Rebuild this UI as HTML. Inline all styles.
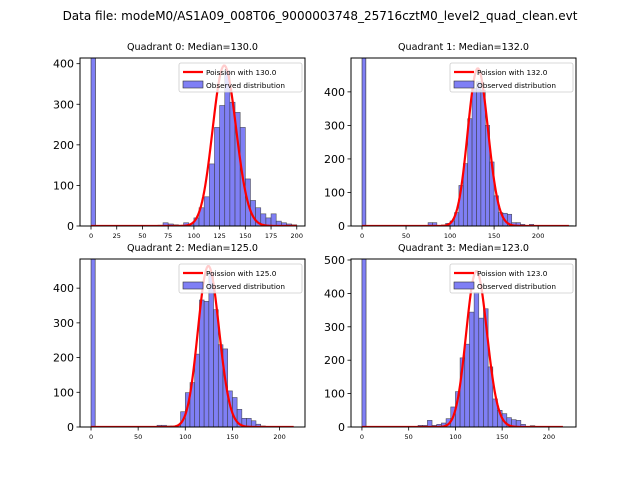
<!DOCTYPE html>
<html><head><meta charset="utf-8"><style>
body{margin:0;background:#fff;width:640px;height:480px;overflow:hidden}
svg{font-family:"DejaVu Sans","Liberation Sans",sans-serif}
</style></head><body>
<svg id="c" width="640" height="480" xmlns="http://www.w3.org/2000/svg">
<rect width="640" height="480" fill="#fff"/>
<text x="320" y="20" font-size="12" text-anchor="middle">Data file: modeM0/AS1A09_008T06_9000003748_25716cztM0_level2_quad_clean.evt</text>
</svg>
<script>
const titles=["Quadrant 0: Median=130.0","Quadrant 1: Median=132.0","Quadrant 2: Median=125.0","Quadrant 3: Median=123.0"];
const lambdas=[130,132,125,123];
const binWidth=5;
const zeroBin=[2000,2000,2000,2000];
const counts0=[0,2,8,5,3,2,8,5,20,45,72,153,243,297,383,305,280,243,116,63,45,30,20,30,12,8,5,3,0,0,0,0,0,0,0,0];
const counts1=[0,0,0,10,10,0,3,8,15,40,121,186,320,410,430,405,300,191,90,40,38,35,10,10,5,0,5,0,2,0,0,0,0,0,0,1];
const counts2=[0,0,5,5,3,3,5,44,99,128,210,366,362,446,338,237,225,104,85,51,25,25,18,8,3,0,0,0,0,0,0,0];
const counts3=[5,5,20,5,8,12,25,60,106,207,248,344,403,326,354,180,84,50,40,28,22,20,8,0,4,0,0,0,0,0,0,0];
const allCounts=[counts0,counts1,counts2,counts3];
const curveScale=[11300,13540,13000,12970];
const curveMax=[200,235,215,215];
const xTicks=[[0,25,50,75,100,125,150,175,200],[0,50,100,150,200],[0,50,100,150,200],[0,50,100,150,200]];
const yTicks=[[0,100,200,300,400],[0,100,200,300,400],[0,100,200,300,400],[0,100,200,300,400,500]];
const xLim=[[-10.7,208],[-12.5,243],[-11.7,227],[-11.7,229]];
const yMax=[414,501,484,503];

const svg=document.getElementById('c');
const NS="http://www.w3.org/2000/svg";
function mk(t,a,p){const e=document.createElementNS(NS,t);for(const k in a)e.setAttribute(k,a[k]);(p||svg).appendChild(e);return e;}
const boxes=[[80,58,225,168],[351,58,225,168],[80,259,225,168],[351,259,225,168]];
function logPois(k,l){let s=k*Math.log(l)-l;for(let i=2;i<=k;i++)s-=Math.log(i);return s;}
for(let q=0;q<4;q++){
  const [bx,by,bw,bh]=boxes[q];
  const g=mk('g',{});
  
  
  const xs=v=>bx+(v-xLim[q][0])/(xLim[q][1]-xLim[q][0])*bw;
  const ys=v=>by+bh-v/yMax[q]*bh;
  const cp=mk('clipPath',{id:'cp'+q},g);mk('rect',{x:bx,y:by,width:bw,height:bh},cp);
  const pg=mk('g',{'clip-path':'url(#cp'+q+')'},g);
  const zb=mk('rect',{x:xs(0),y:ys(zeroBin[q]),width:xs(4.4)-xs(0),height:ys(0)-ys(zeroBin[q]),fill:'#7f7ff5',stroke:'#333','stroke-width':0.6},pg);
  
  
  allCounts[q].forEach((c,i)=>{if(c<=0)return;const x0=60+binWidth*i;
    const r=mk('rect',{x:xs(x0),y:ys(c),width:xs(x0+binWidth)-xs(x0),height:ys(0)-ys(c),fill:'#7f7ff5',stroke:'#333','stroke-opacity':0.8,'stroke-width':0.6},pg);
    
    });
  let d='';for(let k=0;k<=curveMax[q];k++){const v=curveScale[q]*Math.exp(logPois(k,lambdas[q]));d+=(k?'L':'M')+xs(k).toFixed(2)+' '+ys(v).toFixed(2);}
  const pl=mk('path',{d:d,fill:'none',stroke:'#ff0000','stroke-width':2.2},pg);
  
  
  mk('rect',{x:bx,y:by,width:bw,height:bh,fill:'none',stroke:'#000','stroke-width':1},g);
  xTicks[q].forEach(t=>{const x=xs(t);mk('line',{x1:x,x2:x,y1:by+bh,y2:by+bh+3.5,stroke:'#000','stroke-width':0.8},g);
    const tx=mk('text',{x:x,y:by+bh+12,'font-size':6.5,'text-anchor':'middle'},g);tx.textContent=t;
    
    });
  yTicks[q].forEach(t=>{const y=ys(t);mk('line',{x1:bx-3.5,x2:bx,y1:y,y2:y,stroke:'#000','stroke-width':0.8},g);
    const tx=mk('text',{x:bx-6,y:y+4,'font-size':11,'text-anchor':'end'},g);tx.textContent=t;
    
    });
  const tt=mk('text',{x:bx+bw/2,y:by-8,'font-size':9.6,'text-anchor':'middle'},g);tt.textContent=titles[q];
  
  
  const lg=mk('g',{},g);
  
  
  const lx=bx+bw-126,ly=by+5;
  mk('rect',{x:lx,y:ly,width:123,height:29,rx:2,fill:'#fff','fill-opacity':0.8,stroke:'#ccc','stroke-width':0.8},lg);
  mk('line',{x1:lx+4,x2:lx+24,y1:ly+9,y2:ly+9,stroke:'#ff0000','stroke-width':2.2},lg);
  mk('rect',{x:lx+4,y:ly+18,width:20,height:7,fill:'#7f7ff5',stroke:'#333','stroke-width':0.6},lg);
  const t1=mk('text',{x:lx+27,y:ly+12,'font-size':7.3},lg);t1.textContent='Poission with '+lambdas[q].toFixed(1);
  const t2=mk('text',{x:lx+27,y:ly+25,'font-size':7.3},lg);t2.textContent='Observed distribution';
}
</script>
</body></html>
